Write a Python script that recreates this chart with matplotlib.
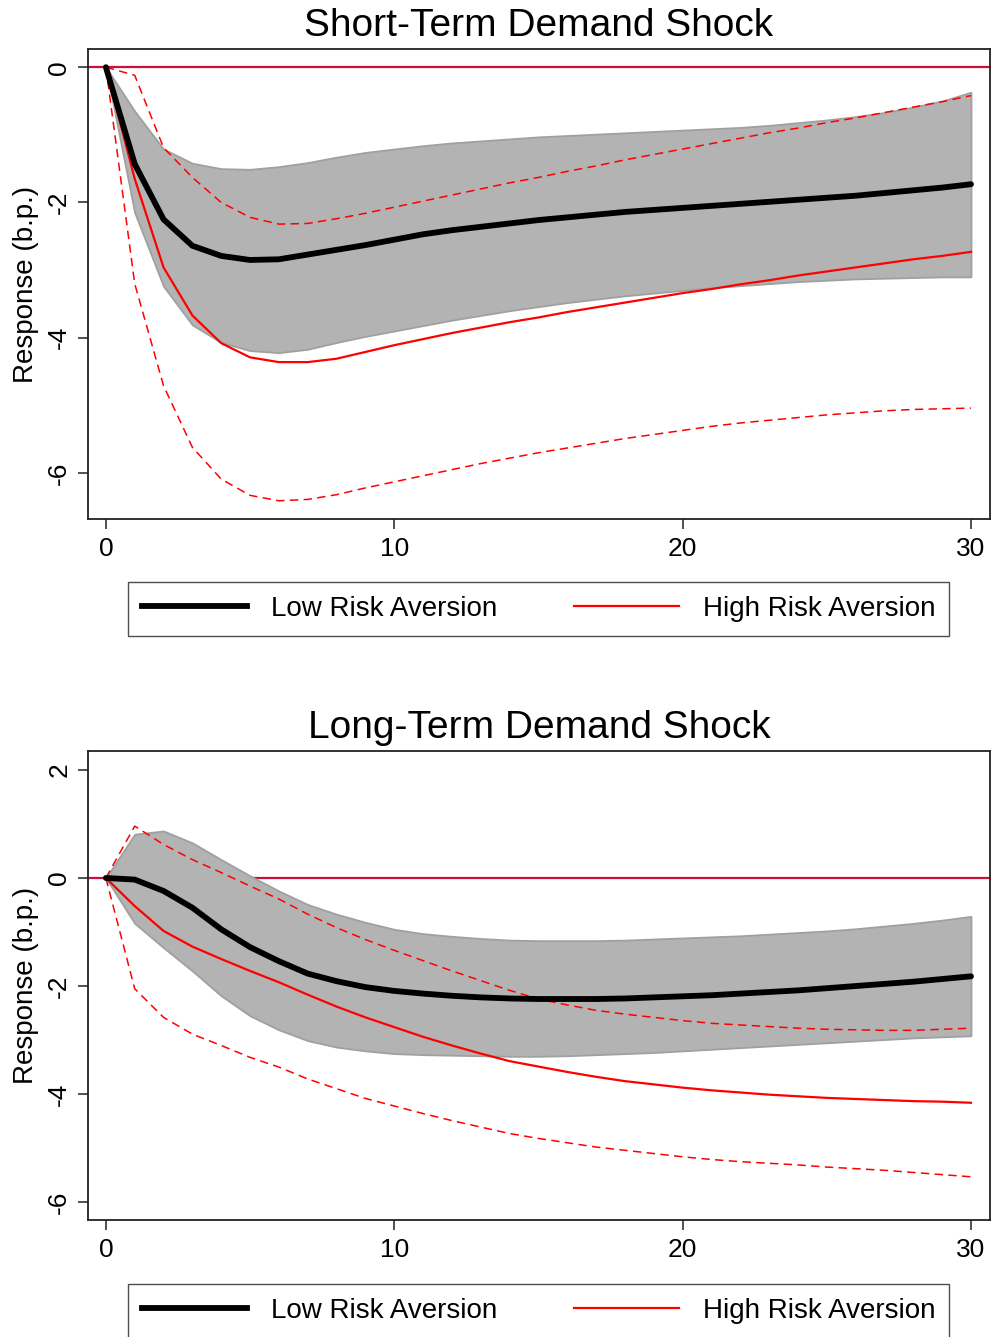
import matplotlib
matplotlib.use("Agg")
import matplotlib.pyplot as plt
import numpy as np
from matplotlib.lines import Line2D

plt.rcParams['font.family'] = ['Liberation Sans', 'DejaVu Sans']

horizon = list(range(31))

# short-term demand shock
st_low = [0, -1.43, -2.25, -2.64, -2.79, -2.85, -2.84, -2.77, -2.70, -2.63, -2.55, -2.47, -2.41, -2.36, -2.31, -2.26,
          -2.22, -2.18, -2.14, -2.11, -2.08, -2.05, -2.02, -1.99, -1.96, -1.93, -1.90, -1.86, -1.82, -1.78, -1.73]
st_low_hi = [0, -0.65, -1.21, -1.42, -1.50, -1.51, -1.47, -1.41, -1.33, -1.26, -1.21, -1.16, -1.12, -1.09, -1.06, -1.03,
             -1.01, -0.99, -0.97, -0.95, -0.93, -0.91, -0.89, -0.86, -0.82, -0.78, -0.73, -0.67, -0.59, -0.50, -0.37]
st_low_lo = [0, -2.15, -3.24, -3.81, -4.07, -4.19, -4.22, -4.17, -4.07, -3.98, -3.90, -3.82, -3.74, -3.67, -3.60, -3.54,
             -3.48, -3.43, -3.38, -3.34, -3.30, -3.26, -3.23, -3.20, -3.17, -3.15, -3.13, -3.12, -3.11, -3.10, -3.10]
st_high = [0, -1.65, -2.96, -3.67, -4.08, -4.29, -4.36, -4.36, -4.31, -4.21, -4.11, -4.02, -3.93, -3.85, -3.77, -3.70,
           -3.62, -3.55, -3.48, -3.41, -3.34, -3.28, -3.21, -3.15, -3.08, -3.02, -2.96, -2.90, -2.84, -2.79, -2.73]
st_high_hi = [0, -0.12, -1.19, -1.63, -2.00, -2.22, -2.32, -2.31, -2.24, -2.16, -2.07, -1.98, -1.89, -1.80, -1.71, -1.63,
              -1.54, -1.46, -1.37, -1.29, -1.21, -1.13, -1.05, -0.97, -0.90, -0.82, -0.75, -0.67, -0.59, -0.51, -0.42]
st_high_lo = [0, -3.20, -4.71, -5.62, -6.09, -6.33, -6.41, -6.39, -6.32, -6.22, -6.13, -6.04, -5.95, -5.86, -5.78, -5.70,
              -5.63, -5.56, -5.49, -5.43, -5.37, -5.31, -5.26, -5.22, -5.18, -5.14, -5.11, -5.08, -5.06, -5.05, -5.04]

# long-term demand shock
lt_low = [0, -0.03, -0.24, -0.55, -0.95, -1.28, -1.54, -1.77, -1.91, -2.02, -2.09, -2.14, -2.18, -2.21, -2.23, -2.24,
          -2.24, -2.24, -2.23, -2.21, -2.19, -2.17, -2.14, -2.11, -2.08, -2.04, -2.00, -1.96, -1.92, -1.87, -1.82]
lt_low_hi = [0, 0.81, 0.87, 0.65, 0.34, 0.04, -0.24, -0.49, -0.67, -0.82, -0.95, -1.03, -1.08, -1.12, -1.15, -1.16,
             -1.16, -1.16, -1.15, -1.13, -1.11, -1.09, -1.07, -1.04, -1.01, -0.98, -0.94, -0.89, -0.84, -0.78, -0.71]
lt_low_lo = [0, -0.84, -1.29, -1.72, -2.18, -2.55, -2.81, -3.01, -3.13, -3.20, -3.25, -3.27, -3.28, -3.29, -3.30, -3.30,
             -3.29, -3.27, -3.25, -3.23, -3.20, -3.17, -3.14, -3.11, -3.08, -3.05, -3.02, -2.99, -2.96, -2.94, -2.92]
lt_high = [0, -0.52, -0.98, -1.27, -1.50, -1.72, -1.93, -2.16, -2.38, -2.58, -2.76, -2.94, -3.10, -3.25, -3.39, -3.49,
           -3.59, -3.68, -3.76, -3.82, -3.88, -3.93, -3.97, -4.01, -4.04, -4.07, -4.09, -4.11, -4.13, -4.14, -4.16]
lt_high_hi = [0, 0.96, 0.62, 0.34, 0.10, -0.15, -0.39, -0.67, -0.92, -1.14, -1.34, -1.53, -1.72, -1.90, -2.08, -2.24,
              -2.35, -2.45, -2.52, -2.58, -2.64, -2.69, -2.72, -2.75, -2.78, -2.80, -2.81, -2.82, -2.82, -2.80, -2.78]
lt_high_lo = [0, -2.05, -2.58, -2.89, -3.10, -3.32, -3.50, -3.72, -3.90, -4.08, -4.22, -4.36, -4.49, -4.61, -4.73, -4.82,
              -4.90, -4.98, -5.04, -5.10, -5.16, -5.21, -5.25, -5.28, -5.31, -5.35, -5.38, -5.41, -5.45, -5.49, -5.53]

titles = ["Short-Term Demand Shock", "Long-Term Demand Shock"]
labels = ["Low Risk Aversion", "High Risk Aversion"]

fig = plt.figure(figsize=(9.92, 13.37), dpi=100)
ax1 = fig.add_axes([0.0887, 0.6118, 0.9093, 0.3516])
ax2 = fig.add_axes([0.0887, 0.0875, 0.9093, 0.3508])


def panel(ax, title, low, low_hi, low_lo, high, high_hi, high_lo, ylim, yticks):
    ax.axhline(0, color='#C8103C', lw=1.6, zorder=1)
    ax.fill_between(horizon, low_lo, low_hi, facecolor='#b3b3b3', edgecolor='#a0a0a0', lw=1.3, zorder=2)
    ax.plot(horizon, high_hi, color='red', lw=1.1, dashes=(5.5, 3.5), zorder=3)
    ax.plot(horizon, high_lo, color='red', lw=1.1, dashes=(5.5, 3.5), zorder=3)
    ax.plot(horizon, high, color='red', lw=1.6, zorder=4)
    ax.plot(horizon, low, color='black', lw=4.2, solid_capstyle='round', zorder=5)
    ax.set_xlim(-0.62, 30.66)
    ax.set_ylim(*ylim)
    ax.set_xticks([0, 10, 20, 30])
    ax.set_yticks(yticks)
    ax.set_yticklabels([str(t) for t in yticks], rotation=90, va='center')
    ax.tick_params(axis='both', labelsize=19, length=7, width=1.2, color='#333333')
    ax.tick_params(axis='y', pad=5)
    ax.tick_params(axis='x', pad=6)
    for s in ax.spines.values():
        s.set_color('#222222')
        s.set_linewidth(1.3)
    ax.set_title(title, fontsize=28, pad=9)
    ax.set_ylabel("Response (b.p.)", fontsize=20, labelpad=6)


panel(ax1, titles[0], st_low, st_low_hi, st_low_lo, st_high, st_high_hi, st_high_lo, (-6.68, 0.27), [0, -2, -4, -6])
panel(ax2, titles[1], lt_low, lt_low_hi, lt_low_lo, lt_high, lt_high_hi, lt_high_lo, (-6.33, 2.35), [2, 0, -2, -4, -6])

handles = [Line2D([], [], color='black', lw=4.2), Line2D([], [], color='red', lw=1.6)]
for yc in [0.5445, 0.0194]:
    leg = fig.legend(handles, labels, ncol=2, loc='center',
                     bbox_to_anchor=(538.5 / 992, yc),
                     fontsize=20, frameon=True, fancybox=False, edgecolor='#222222',
                     handlelength=3.8, handletextpad=0.85, borderpad=0.5, borderaxespad=0,
                     columnspacing=2.75)
    leg.get_frame().set_linewidth(1.0)

fig.savefig("out.png", dpi=100)
